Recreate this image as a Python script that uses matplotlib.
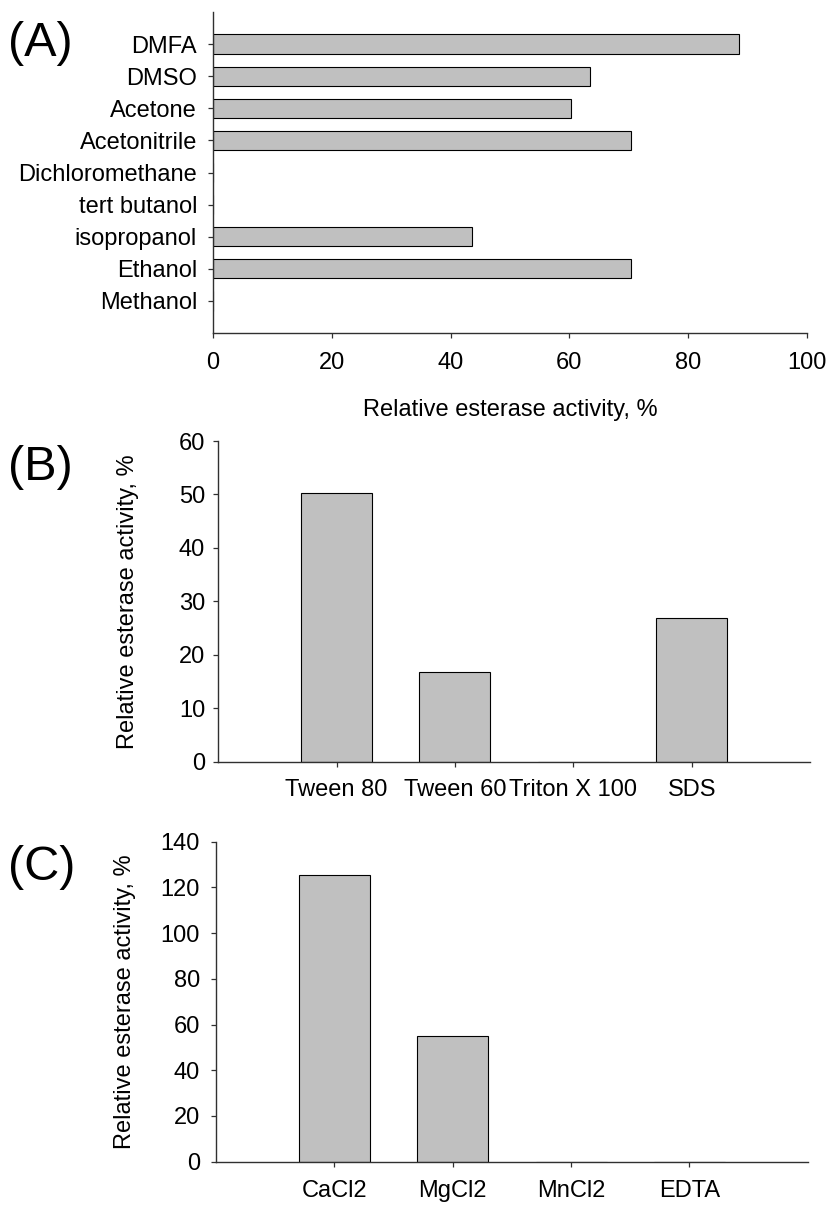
import matplotlib
matplotlib.use("Agg")
import matplotlib.pyplot as plt

plt.rcParams['font.family'] = ['Liberation Sans', 'DejaVu Sans']

# Panel A data
solvents = ["Methanol", "Ethanol", "isopropanol", "tert butanol", "Dichloromethane",
            "Acetonitrile", "Acetone", "DMSO", "DMFA"]
solvent_activity = [0, 70.3, 43.6, 0, 0, 70.3, 60.3, 63.5, 88.6]
a_xticks = [0, 20, 40, 60, 80, 100]

# Panel B data
detergents = ["Tween 80", "Tween 60", "Triton X 100", "SDS"]
detergent_activity = [50.2, 16.7, 0, 26.8]
b_yticks = [0, 10, 20, 30, 40, 50, 60]

# Panel C data
ions = ["CaCl2", "MgCl2", "MnCl2", "EDTA"]
ion_activity = [125.5, 55.0, 0, 0]
c_yticks = [0, 20, 40, 60, 80, 100, 120, 140]

W, H = 828, 1205
fig = plt.figure(figsize=(W / 100, H / 100), dpi=100)

def px_axes(l, t, r, b):
    return fig.add_axes([l / W, 1 - b / H, (r - l) / W, (b - t) / H])

BAR = '#C0C0C0'
SPINE = '#303030'
FS = 17

def style(ax):
    for s in ['top', 'right']:
        ax.spines[s].set_visible(False)
    for s in ['left', 'bottom']:
        ax.spines[s].set_color(SPINE)
        ax.spines[s].set_linewidth(1.0)
    ax.tick_params(direction='out', length=3.5, width=0.9, color=SPINE, labelsize=FS)

# ---- Panel A ----
axA = px_axes(213, 12, 807, 333)
posA = list(range(1, len(solvents) + 1))
axA.barh(posA, solvent_activity, height=0.6, color=BAR, edgecolor='black', linewidth=0.8)
axA.set_ylim(0, 10)
axA.set_xlim(0, 100)
axA.set_yticks(posA)
axA.set_yticklabels(solvents)
axA.set_xticks(a_xticks)
style(axA)
axA.tick_params(axis='y', pad=8)
axA.tick_params(axis='x', pad=10)
axA.set_xlabel("Relative esterase activity, %", fontsize=FS)
axA.xaxis.set_label_coords(0.5, (333 - 410) / 321)
axA.xaxis.label.set_verticalalignment('center')

# ---- Panel B ----
axB = px_axes(218.3, 441, 810, 761.7)
posB = list(range(1, len(detergents) + 1))
axB.bar(posB, detergent_activity, width=0.6, color=BAR, edgecolor='black', linewidth=0.8)
axB.set_xlim(0, 5)
axB.set_ylim(0, 60)
axB.set_xticks(posB)
axB.set_xticklabels(detergents)
axB.set_yticks(b_yticks)
style(axB)
axB.tick_params(axis='x', pad=9)
axB.tick_params(axis='y', pad=6)
axB.set_ylabel("Relative esterase activity, %", fontsize=FS)
axB.yaxis.set_label_coords((128 - 218.3) / 591.7, 0.5)
axB.yaxis.label.set_verticalalignment('center')

# ---- Panel C ----
axC = px_axes(216, 841.7, 807.7, 1161.7)
posC = list(range(1, len(ions) + 1))
axC.bar(posC, ion_activity, width=0.6, color=BAR, edgecolor='black', linewidth=0.8)
axC.set_xlim(0, 5)
axC.set_ylim(0, 140)
axC.set_xticks(posC)
axC.set_xticklabels(ions)
axC.set_yticks(c_yticks)
style(axC)
axC.tick_params(axis='x', pad=10)
axC.tick_params(axis='y', pad=8)
axC.set_ylabel("Relative esterase activity, %", fontsize=FS)
axC.yaxis.set_label_coords((125 - 216) / 591.7, 0.5)
axC.yaxis.label.set_verticalalignment('center')

# Panel letters
for lab, yc in [("(A)", 43), ("(B)", 467), ("(C)", 868)]:
    fig.text(8 / W, 1 - yc / H, lab, fontsize=35, ha='left', va='center')

fig.savefig("out.png", dpi=100)
